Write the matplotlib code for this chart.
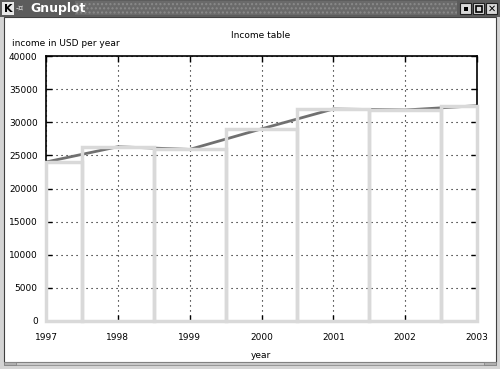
import matplotlib
matplotlib.use("Agg")
import matplotlib.pyplot as plt
from matplotlib.patches import Rectangle

# income table data
years = [1997, 1998, 1999, 2000, 2001, 2002, 2003]
income = [24000, 26300, 25900, 29000, 32000, 31850, 32500]
yticks = [0, 5000, 10000, 15000, 20000, 25000, 30000, 35000, 40000]

W, H = 500, 369
fig = plt.figure(figsize=(W / 100, H / 100), dpi=100)
fig.patch.set_facecolor("white")


def px_rect(x, y, w, h, **kw):
    # rectangle in pixel coords, origin top-left
    r = Rectangle((x / W, 1 - (y + h) / H), w / W, h / H,
                  transform=fig.transFigure, zorder=-5, **kw)
    fig.patches.append(r)


def px_text(x, y, s, **kw):
    fig.text(x / W, 1 - y / H, s, **kw)


# window frame
px_rect(0, 0, W, H, facecolor="#d4d4d4", edgecolor="none")
px_rect(4, 17, 492, 345, facecolor="white", edgecolor="#404040", linewidth=0.8)
px_rect(0, 0, W, 17, facecolor="#5c5c5c", edgecolor="none")
px_rect(75, 1, 382, 14, facecolor="#6a6a6a", edgecolor="#8a8a8a",
        hatch="....", linewidth=0)
px_rect(2, 2, 12, 13, facecolor="#e8e8e8", edgecolor="none")
px_text(8, 8.5, "K", color="black", fontsize=8, fontweight="bold",
        ha="center", va="center")
px_text(20, 8.5, "-\u00a4", color="#dddddd", fontsize=6, ha="center", va="center")
px_text(30, 8.5, "Gnuplot", color="white", fontsize=9, fontweight="bold",
        va="center")
for bx in (460, 473, 486):
    px_rect(bx, 3, 11, 11, facecolor="#d8d8d8", edgecolor="#202020", linewidth=0.8)
px_rect(463.5, 6.5, 4, 4, facecolor="black", edgecolor="none")
px_rect(475.5, 5.5, 6, 6, facecolor="none", edgecolor="black", linewidth=1.2)
px_text(491.5, 8.5, "\u2715", color="black", fontsize=7, fontweight="bold",
        ha="center", va="center")
px_rect(4, 362, 492, 3, facecolor="#c8c8c8", edgecolor="#808080", linewidth=0.5)
px_rect(4, 362, 12, 3, facecolor="#b0b0b0", edgecolor="#808080", linewidth=0.5)
px_rect(484, 362, 12, 3, facecolor="#b0b0b0", edgecolor="#808080", linewidth=0.5)

# plot area
left, right, top, bottom = 46, 477, 56, 321
ax = fig.add_axes([left / W, 1 - bottom / H, (right - left) / W, (bottom - top) / H])
ax.set_facecolor("none")
ax.set_zorder(5)

xmin, xmax = years[0], years[-1]
# gnuplot clips the boxes at the plot border and draws the clipped outline
lefts = [max(y - 0.5, xmin) for y in years]
widths = [min(y + 0.5, xmax) - l for y, l in zip(years, lefts)]

ax.plot(years, income, color="#707070", linewidth=2, zorder=2)
ax.bar(lefts, income, width=widths, align="edge", fill=False,
       edgecolor="#d9d9d9", linewidth=2.5, zorder=5, clip_on=False)

ax.set_xlim(xmin, xmax)
ax.set_ylim(0, 40000)
ax.set_xticks(years)
ax.set_xticklabels([str(y) for y in years])
ax.set_yticks(yticks)
ax.set_yticklabels([str(v) for v in yticks])
ax.grid(True, color="black", linestyle=(0, (1, 3.5)), linewidth=0.8, zorder=1)
ax.tick_params(direction="in", length=4, width=1, top=True, right=True,
               labelsize=6.5, pad=6)
ax.tick_params(axis="x", pad=9)
for sp in ax.spines.values():
    sp.set_linewidth(1.2)
    sp.set_zorder(4)

px_text(261, 36, "Income table", fontsize=6.5, ha="center", va="center")
px_text(12, 44, "income in USD per year", fontsize=6.5, va="center")
px_text(261, 355, "year", fontsize=6.5, ha="center", va="center")

fig.savefig("out.png", dpi=100)
